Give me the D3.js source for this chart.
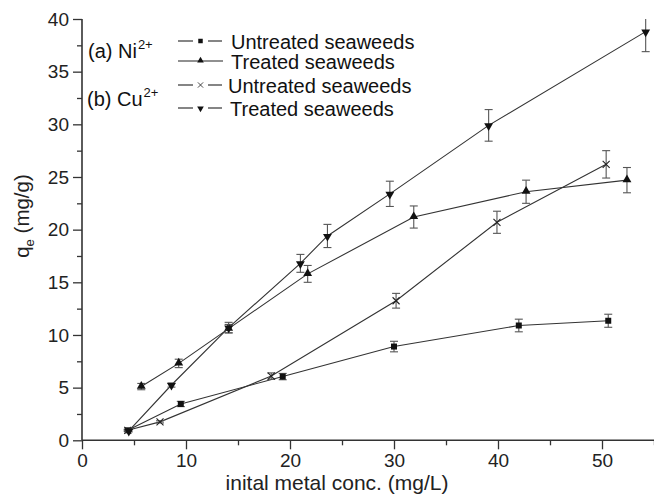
<!DOCTYPE html>
<html><head><meta charset="utf-8">
<script src="https://cdn.jsdelivr.net/npm/d3@7"></script>
<style>body{margin:0;background:#fff;}svg{display:block;font-family:"Liberation Sans",Arial,sans-serif;}</style>
</head><body>
<svg id="c" width="654" height="498"></svg>
<script>
// Data
const xTicks = [0,10,20,30,40,50];
const yTicks = [0,5,10,15,20,25,30,35,40];
const niUntreatedX = [4.4, 9.5, 19.3, 30.0, 42.0, 50.6];
const niUntreatedY = [0.95, 3.45, 6.05, 8.9, 10.9, 11.35];
const niUntreatedE = [0.1, 0.25, 0.3, 0.5, 0.6, 0.62];
const niTreatedX = [5.7, 9.3, 14.1, 21.7, 31.9, 42.7, 52.4];
const niTreatedY = [5.1, 7.3, 10.6, 15.8, 21.2, 23.6, 24.7];
const niTreatedE = [0.3, 0.4, 0.4, 0.8, 1.05, 1.1, 1.2];
const cuUntreatedX = [4.4, 7.5, 18.2, 30.2, 39.9, 50.4];
const cuUntreatedY = [0.95, 1.75, 6.1, 13.25, 20.7, 26.2];
const cuUntreatedE = [0.05, 0.1, 0.3, 0.7, 1.05, 1.3];
const cuTreatedX = [4.5, 8.6, 14.1, 21.0, 23.6, 29.6, 39.1, 54.2];
const cuTreatedY = [0.9, 5.25, 10.7, 16.8, 19.4, 23.4, 29.9, 38.8];
const cuTreatedE = [0.1, 0.2, 0.5, 0.85, 1.1, 1.2, 1.5, 1.9];
const legendLabels = ["Untreated seaweeds","Treated seaweeds","Untreated seaweeds","Treated seaweeds"];

const svg = d3.select("#c");
const x = d3.scaleLinear().domain([0,55]).range([82,654]);
const y = d3.scaleLinear().domain([0,40]).range([440.3,19]);
const axisCol = "#333";

svg.append("defs").append("clipPath").attr("id","clip")
  .append("rect").attr("x",82).attr("y",19).attr("width",572).attr("height",422);

// axes
const xAx = svg.append("g").attr("transform",`translate(0,${y(0)})`)
  .call(d3.axisBottom(x).tickValues(xTicks).tickSize(9).tickPadding(4).tickFormat(d3.format("d")));
const xMinor = svg.append("g").attr("transform",`translate(0,${y(0)})`)
  .call(d3.axisBottom(x).tickValues(d3.range(5,56,10)).tickSize(5).tickFormat(""));
const yAx = svg.append("g").attr("transform",`translate(${x(0)},0)`)
  .call(d3.axisLeft(y).tickValues(yTicks).tickSize(9).tickPadding(4).tickFormat(d3.format("d")));
const yMinor = svg.append("g").attr("transform",`translate(${x(0)},0)`)
  .call(d3.axisLeft(y).tickValues(d3.range(2.5,40,5)).tickSize(5).tickFormat(""));
[xAx,xMinor,yAx,yMinor].forEach(g=>{
  g.selectAll("path").attr("stroke",axisCol).attr("stroke-width",1.6);
  g.selectAll("line").attr("stroke",axisCol).attr("stroke-width",1.3);
  g.selectAll("text").attr("fill","#222").style("font-size","19px").style("font-family","Liberation Sans, Arial, sans-serif");
});
xMinor.select("path").remove(); yMinor.select("path").remove();
xAx.select("path").attr("d",`M82,0H654`);
yAx.select("path").attr("d",`M0,${y(0)}V${y(40)}`);
xAx.selectAll("text").attr("dy","0.72em");

// axis titles
svg.append("text").attr("x",337).attr("y",490).attr("text-anchor","middle")
  .style("font-size","21px").attr("fill","#222").text("inital metal conc. (mg/L)");
const yt = svg.append("text").attr("transform","translate(29,216) rotate(-90)")
  .attr("text-anchor","middle").style("font-size","20.5px").attr("fill","#222");
yt.append("tspan").text("q");
yt.append("tspan").attr("dy",5).style("font-size","13px").text("e");
yt.append("tspan").attr("dy",-5).text(" (mg/g)");

// marker symbols
const sq = d3.symbol().type(d3.symbolSquare).size(36)();
const triUp = d3.symbol().type(d3.symbolTriangle).size(34)();
const cross = "M-3.5,-3.5L3.5,3.5M-3.5,3.5L3.5,-3.5";
function marker(g, type){
  if(type==="sq") g.append("path").attr("d",sq).attr("fill","#111");
  else if(type==="up") g.append("path").attr("d",triUp).attr("fill","#111").attr("transform","translate(0,-0.5)");
  else if(type==="down") g.append("path").attr("d",triUp).attr("fill","#111").attr("transform","rotate(180) translate(0,-0.5)");
  else g.append("path").attr("d",cross).attr("stroke","#222").attr("stroke-width",1.1).attr("fill","none");
}

const series = [
  {xs:niUntreatedX, ys:niUntreatedY, es:niUntreatedE, m:"sq"},
  {xs:niTreatedX, ys:niTreatedY, es:niTreatedE, m:"up"},
  {xs:cuUntreatedX, ys:cuUntreatedY, es:cuUntreatedE, m:"x"},
  {xs:cuTreatedX, ys:cuTreatedY, es:cuTreatedE, m:"down"}
];
const line = d3.line().x(d=>x(d[0])).y(d=>y(d[1]));
series.forEach(s=>{
  const pts = s.xs.map((v,i)=>[v,s.ys[i],s.es[i]]);
  const g = svg.append("g");
  g.append("path").datum(pts).attr("d",line).attr("fill","none").attr("stroke","#333").attr("stroke-width",1.1);
  const eb = g.append("g").attr("clip-path","url(#clip)");
  pts.forEach(p=>{
    const xp=x(p[0]), y1=y(p[1]+p[2]), y2=y(p[1]-p[2]);
    eb.append("line").attr("x1",xp).attr("x2",xp).attr("y1",y1).attr("y2",y2).attr("stroke","#555").attr("stroke-width",1.1);
    eb.append("line").attr("x1",xp-4).attr("x2",xp+4).attr("y1",y1).attr("y2",y1).attr("stroke","#555").attr("stroke-width",1.1);
    eb.append("line").attr("x1",xp-4).attr("x2",xp+4).attr("y1",y2).attr("y2",y2).attr("stroke","#555").attr("stroke-width",1.1);
    marker(g.append("g").attr("transform",`translate(${xp},${y(p[1])})`), s.m);
  });
});

// legend
const legRows = [41,61,85,108];
const legTextX = [231,231,228,230];
const legSolid = [false,true,false,false];
const legMarks = ["sq","up","x","down"];
legRows.forEach((ry,i)=>{
  const g = svg.append("g");
  if(legSolid[i]){
    g.append("line").attr("x1",178).attr("x2",223).attr("y1",ry).attr("y2",ry).attr("stroke","#222").attr("stroke-width",1.1);
  } else {
    g.append("line").attr("x1",178).attr("x2",193).attr("y1",ry).attr("y2",ry).attr("stroke","#222").attr("stroke-width",1.1);
    g.append("line").attr("x1",208).attr("x2",222).attr("y1",ry).attr("y2",ry).attr("stroke","#222").attr("stroke-width",1.1);
  }
  const mg = g.append("g").attr("transform",`translate(200.5,${ry}) scale(0.75)`);
  marker(mg, legMarks[i]);
  g.append("text").attr("x",legTextX[i]).attr("y",ry+7.5).style("font-size","20px").attr("fill","#111").text(legendLabels[i]);
});

// ion labels
const a = svg.append("text").attr("x",88).attr("y",58).style("font-size","20px").attr("fill","#111");
a.append("tspan").text("(a) Ni");
a.append("tspan").attr("dy",-9).attr("dx",1).style("font-size","13px").text("2+");
const b = svg.append("text").attr("x",87).attr("y",106).style("font-size","20px").attr("fill","#111");
b.append("tspan").text("(b) Cu");
b.append("tspan").attr("dy",-9).attr("dx",1).style("font-size","13px").text("2+");
</script>
</body></html>
